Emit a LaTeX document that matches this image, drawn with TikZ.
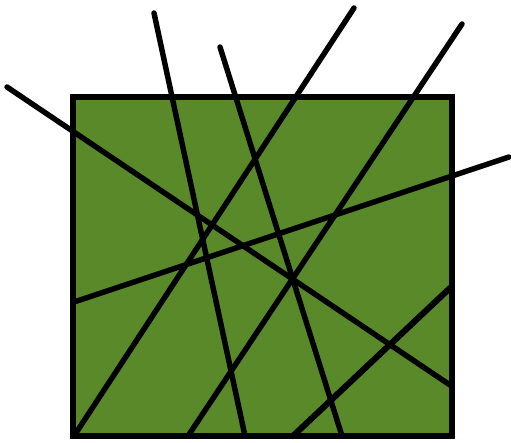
\documentclass[tikz,border=0pt]{standalone}
\definecolor{leafgreen}{RGB}{90,137,42}
\tikzset{
  cut/.style={line width=3.1pt,line cap=round},
}
\begin{document}
\begin{tikzpicture}[x=0.02cm,y=-0.02cm]
  \useasboundingbox (0,0) rectangle (511,443);
  \filldraw[fill=leafgreen,draw=black,line width=3.8pt] (73,97) rectangle (452,436);
  \draw[cut] (7,87) -- (450,385);
  \draw[cut] (154,13) -- (245,436);
  \draw[cut] (354,8) -- (74,436);
  \draw[cut] (220,47) -- (342,436);
  \draw[cut] (462,24) -- (188,436);
  \draw[cut] (509,157) -- (74,302);
  \draw[cut,line width=3.5pt] (450,288) -- (293,436);
\end{tikzpicture}
\end{document}
